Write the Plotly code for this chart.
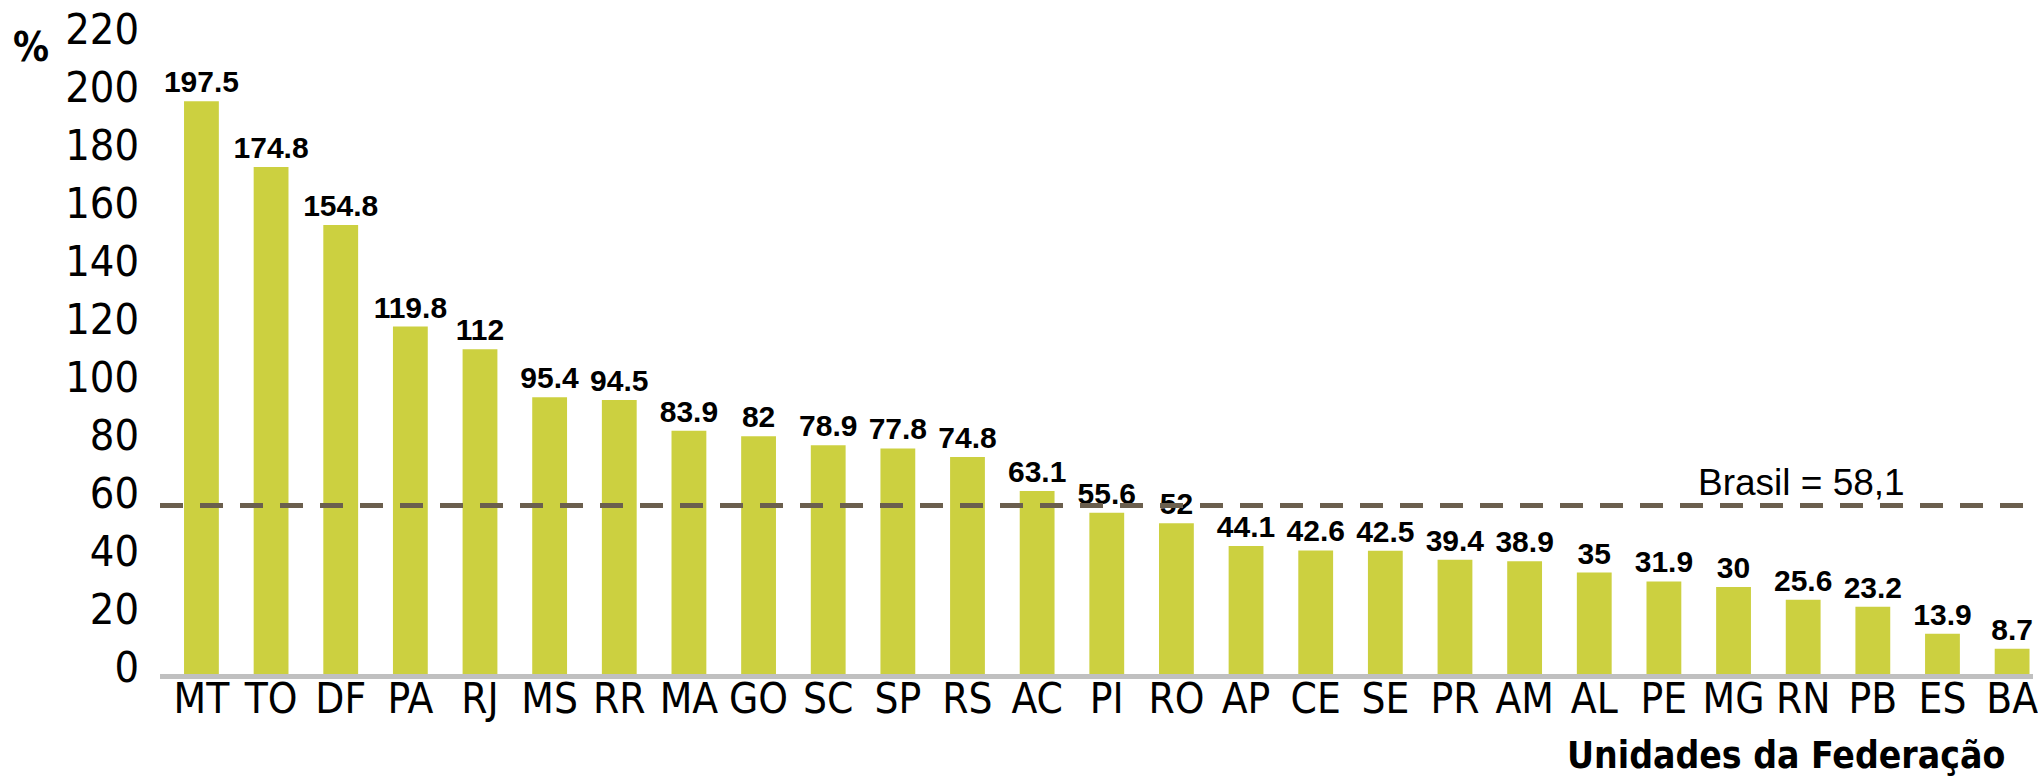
import plotly.graph_objects as go

# Unidades da Federação, ordered by value
ufs = ["MT", "TO", "DF", "PA", "RJ", "MS", "RR", "MA", "GO", "SC", "SP", "RS", "AC", "PI",
       "RO", "AP", "CE", "SE", "PR", "AM", "AL", "PE", "MG", "RN", "PB", "ES", "BA"]
valores = [197.5, 174.8, 154.8, 119.8, 112, 95.4, 94.5, 83.9, 82, 78.9, 77.8, 74.8, 63.1, 55.6,
           52, 44.1, 42.6, 42.5, 39.4, 38.9, 35, 31.9, 30, 25.6, 23.2, 13.9, 8.7]
brasil = 58.1
y_ticks = [0, 20, 40, 60, 80, 100, 120, 140, 160, 180, 200, 220]

NARROW = "DejaVu Sans Condensed, Liberation Sans Narrow, sans-serif"
REGULAR = "Liberation Sans, Arial, sans-serif"

fig = go.Figure()
fig.add_trace(go.Bar(
    x=list(range(len(ufs))),
    y=valores,
    width=0.5,
    marker=dict(color="#CCD040", line=dict(width=0)),
    text=[f"{v:g}" for v in valores],
    textposition="outside",
    constraintext="none",
    textfont=dict(family=REGULAR, size=30, color="#000000", weight="bold"),
    cliponaxis=False,
    hoverinfo="skip",
))

# Brazil average reference line
fig.add_shape(type="line", xref="paper", x0=0, x1=1, yref="y", y0=brasil, y1=brasil,
              line=dict(color="#6B5F4E", width=5, dash="23px,17px"), layer="above")
fig.add_annotation(xref="paper", x=0.8765, xanchor="center", yref="y", y=brasil,
                   yanchor="bottom", yshift=1,
                   text="Brasil = 58,1", showarrow=False,
                   font=dict(family=REGULAR, size=37, color="#000000"))

fig.add_annotation(xref="paper", x=-0.0687, xanchor="center", yref="paper", y=0.982,
                   yanchor="middle", text="%", showarrow=False,
                   font=dict(family=NARROW, size=40, color="#000000", weight="bold"))
fig.add_annotation(xref="paper", x=0.868, xanchor="center", yref="paper", y=-0.127,
                   yanchor="middle", text="Unidades da Federação", showarrow=False,
                   font=dict(family=NARROW, size=37, color="#000000", weight="bold"))

fig.update_layout(
    width=2038, height=779,
    margin=dict(l=160, r=0, t=36, b=105),
    paper_bgcolor="white", plot_bgcolor="white",
    showlegend=False,
    xaxis=dict(
        range=[-0.595, 26.3],
        tickmode="array", tickvals=list(range(len(ufs))), ticktext=ufs,
        tickfont=dict(family=NARROW, size=42, color="#000000"),
        showgrid=False, zeroline=False,
        showline=True, linecolor="#C0C0C0", linewidth=5,
        ticks="", ticklabelstandoff=-16, ticklabeloverflow="allow",
    ),
    yaxis=dict(
        range=[0, 220],
        tickmode="array", tickvals=y_ticks, ticktext=[str(t) for t in y_ticks],
        tickfont=dict(family=NARROW, size=43, color="#000000"),
        showgrid=False, zeroline=False, showline=False,
        ticks="", ticklabelstandoff=20, ticklabelshift=-7,
    ),
)

fig.write_html("out.html")
